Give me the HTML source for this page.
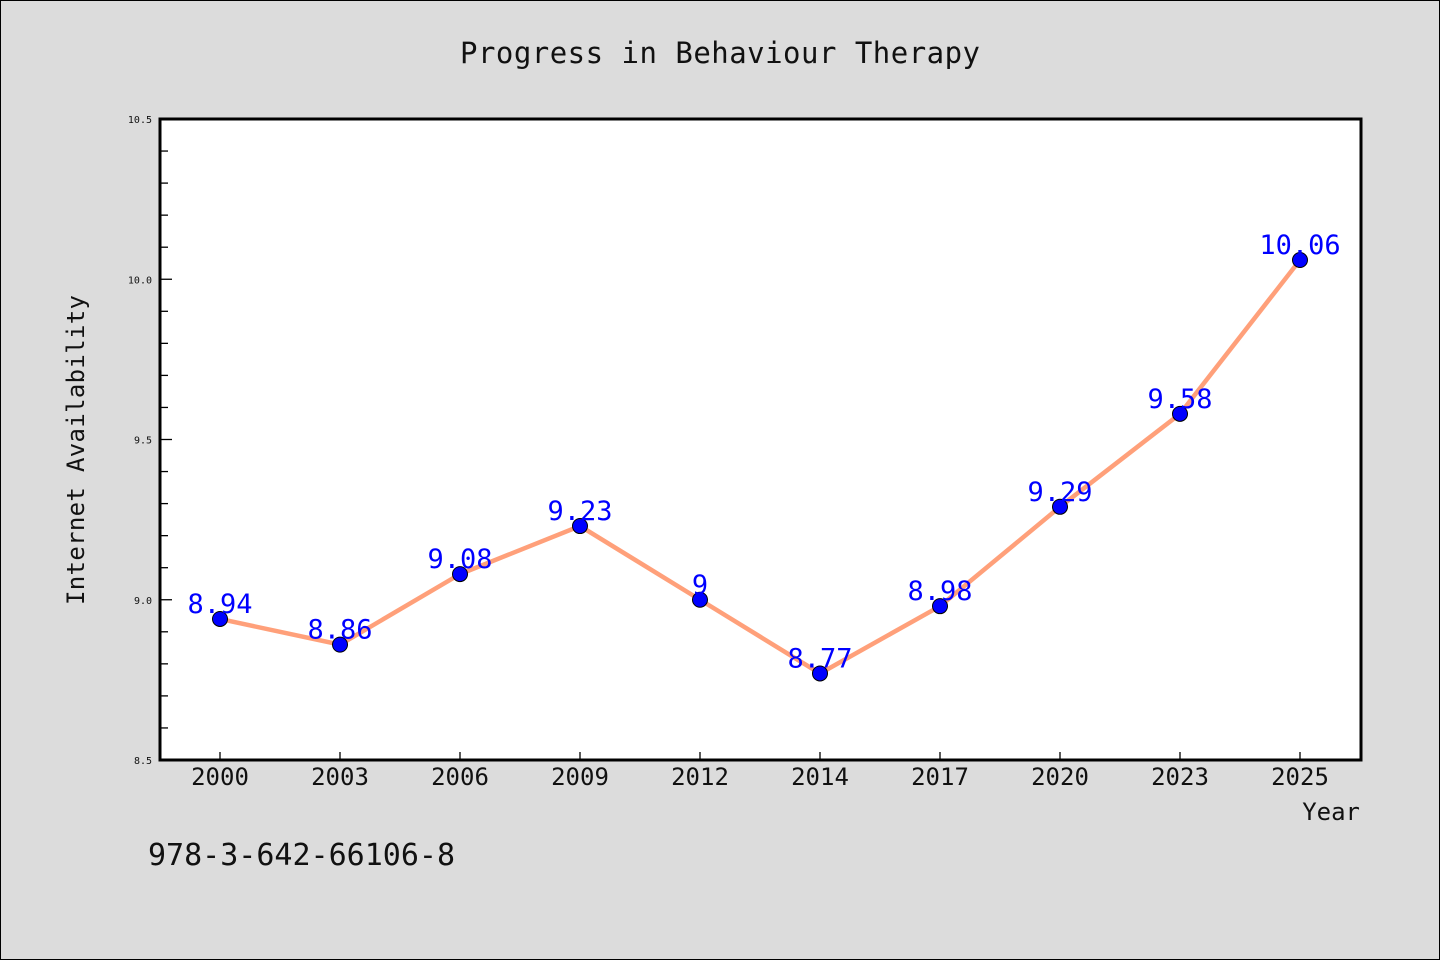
<!DOCTYPE html>
<html><head><meta charset="utf-8"><style>
body{margin:0;background:#dcdcdc}
svg{display:block;font-family:"WenQuanYi Zen Hei Mono","DejaVu Sans Mono","Liberation Mono",monospace}
</style></head><body>
<svg id="chart" width="1440" height="960" viewBox="0 0 1440 960">
<rect x="0.5" y="0.5" width="1439" height="959" fill="#dcdcdc" stroke="#000"/>
<text x="720" y="63" text-anchor="middle" font-size="29" fill="#111" textLength="520">Progress in Behaviour Therapy</text>
<rect x="160" y="119" width="1201" height="641" fill="#fff"/>
<g id="yticks"></g><g id="xticks"></g>
<rect x="160" y="119" width="1201" height="641" fill="none" stroke="#000" stroke-width="3"/>
<polyline id="line" fill="none" stroke="#ffa07a" stroke-width="4.5"/>
<g id="points"></g>
<text x="84" y="450" transform="rotate(-90 84 450)" text-anchor="middle" font-size="24" fill="#111" textLength="310">Internet Availability</text>
<text x="1360" y="820" text-anchor="end" font-size="24" fill="#111">Year</text>
<text x="148" y="865" font-size="30" fill="#111" textLength="307">978-3-642-66106-8</text>
</svg>
<script>
const categories=["2000","2003","2006","2009","2012","2014","2017","2020","2023","2025"];
const values=[8.94,8.86,9.08,9.23,9.00,8.77,8.98,9.29,9.58,10.06];
const valueLabels=["8.94","8.86","9.08","9.23","9","8.77","8.98","9.29","9.58","10.06"];
const yTickLabels=["8.5","9.0","9.5","10.0","10.5"];
const yMin=8.5,yMax=10.5;
const NS="http://www.w3.org/2000/svg";
const X=i=>220+i*120;
const Y=v=>760-(v-yMin)/(yMax-yMin)*641;
function mk(tag,attrs,parent,txt){const e=document.createElementNS(NS,tag);for(const k in attrs)e.setAttribute(k,attrs[k]);if(txt!==undefined)e.textContent=txt;parent.appendChild(e);return e;}
const yt=document.getElementById('yticks');
for(let k=0;k<=20;k++){const v=yMin+k*0.1;const y=Y(v);const major=k%5===0;
 const t=mk('line',{x1:160,x2:major?172:168,y1:y,y2:y,stroke:'#000','stroke-width':1.3},yt);
 
 }
yTickLabels.forEach(s=>{const t=mk('text',{x:152,y:Y(parseFloat(s))+4,'text-anchor':'end','font-size':10,fill:'#111'},yt,s);
 
 });
const xt=document.getElementById('xticks');
categories.forEach((c,i)=>{const l=mk('line',{x1:X(i),x2:X(i),y1:760,y2:752,stroke:'#000','stroke-width':1.3},xt);
 
 
 const t=mk('text',{x:X(i),y:785,'text-anchor':'middle','font-size':24,fill:'#111'},xt,c);
 
 });
document.getElementById('line').setAttribute('points',values.map((v,i)=>X(i)+','+Y(v)).join(' '));
const pg=document.getElementById('points');
values.forEach((v,i)=>{const c=mk('circle',{cx:X(i),cy:Y(v),r:7.5,fill:'#0000ff',stroke:'#000','stroke-width':1},pg);
 
 
 const t=mk('text',{x:X(i),y:Y(v)-6,'text-anchor':'middle','font-size':27,fill:'#0000ff'},pg,valueLabels[i]);
 
 });
</script>
</body></html>
